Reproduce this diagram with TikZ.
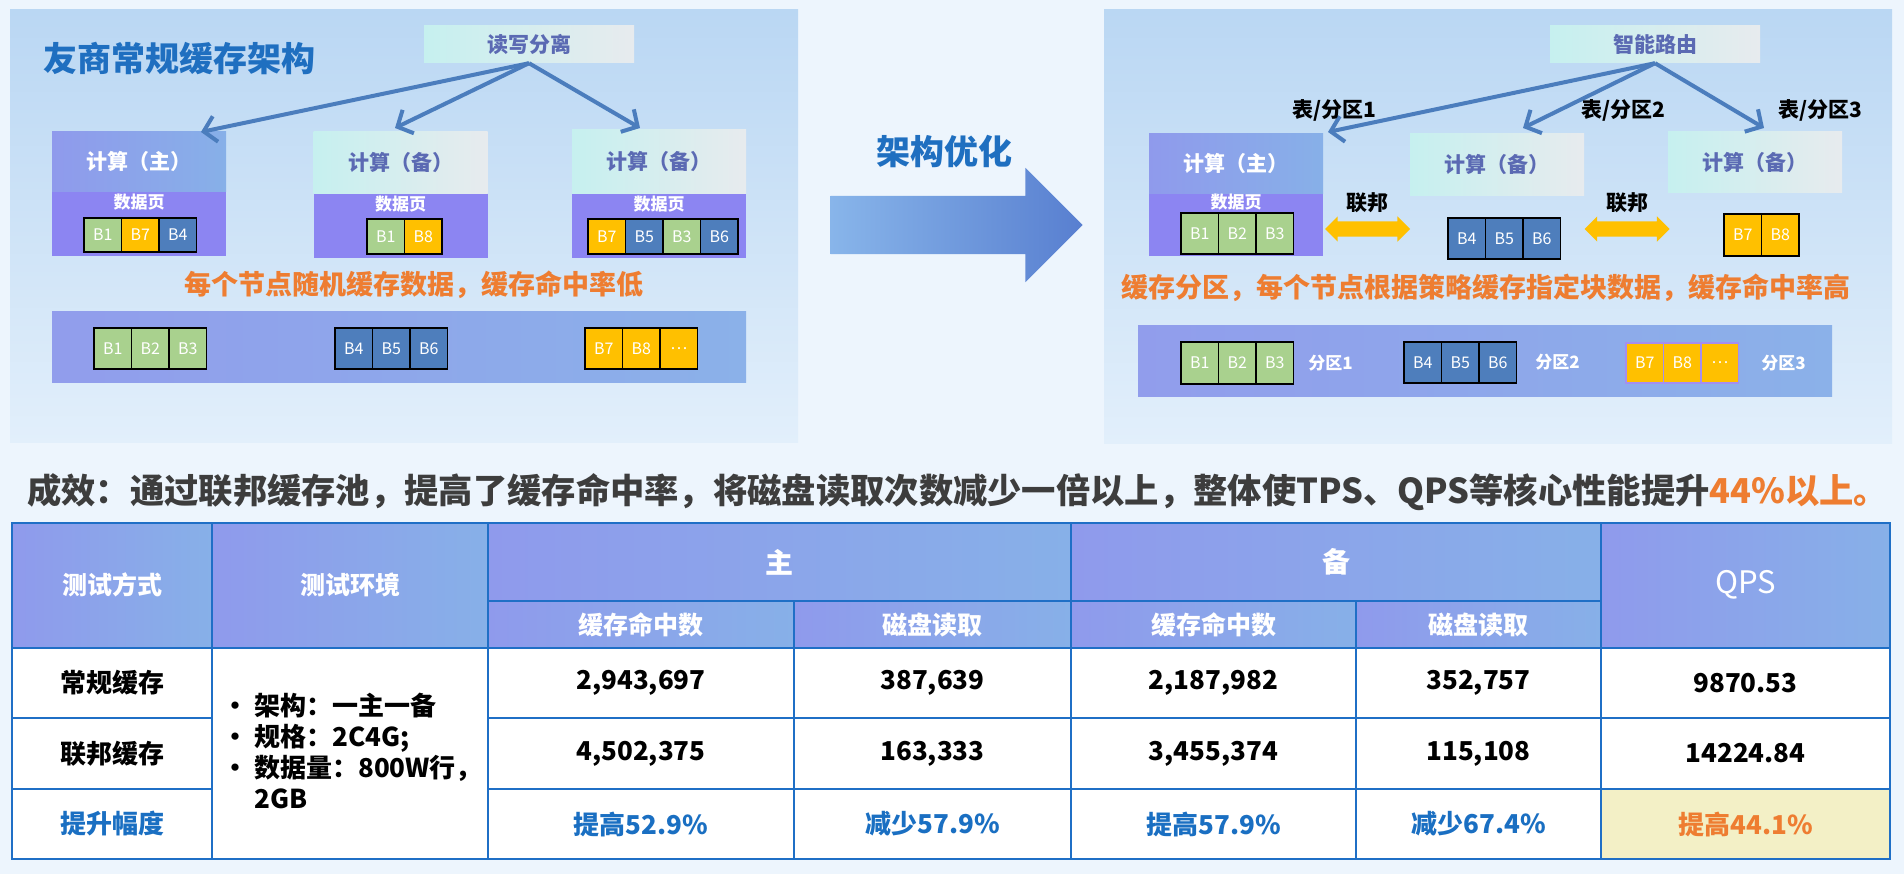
\documentclass[tikz,border=0pt]{standalone}
\usepackage{fontspec}
\setmainfont{Noto Sans CJK SC}
\usetikzlibrary{arrows.meta}
\usetikzlibrary{positioning}
\usetikzlibrary{shapes.arrows}

\definecolor{pagebg}{HTML}{EDF5FD}
\definecolor{paneltop}{HTML}{BAD7F3}
\definecolor{panelbot}{HTML}{E2EFFB}
\definecolor{titleblue}{HTML}{1F6FC0}
\definecolor{flowblue}{HTML}{4B7DBD}
\definecolor{hdl}{HTML}{8F9AEC}
\definecolor{hdr}{HTML}{87B0E8}
\definecolor{dpage}{HTML}{8C85F2}
\definecolor{stdl}{HTML}{C6F0EF}
\definecolor{stdr}{HTML}{E7EBEE}
\definecolor{stdtext}{HTML}{5B6AB3}
\definecolor{bandl}{HTML}{919DEC}
\definecolor{bandr}{HTML}{8BB1E9}
\definecolor{bgreen}{HTML}{A9D18E}
\definecolor{byellow}{HTML}{FFC000}
\definecolor{bblue}{HTML}{4E7EBC}
\definecolor{hotorange}{HTML}{EE7D31}
\definecolor{gridblue}{HTML}{1F6FC6}
\definecolor{gaintext}{HTML}{1A6FC2}
\definecolor{qpsfill}{HTML}{F3F0C6}
\definecolor{textgray}{HTML}{3D3D3D}
\definecolor{arrl}{HTML}{88B5EA}
\definecolor{arrr}{HTML}{587FD0}
\definecolor{lilac}{HTML}{A58EF0}

\newcommand{\fsz}[1]{\fontsize{#1}{#1}\selectfont}
% a row of cache blocks: [extra style]{name}{x of first}{y}{height}{label/colour list}
\newcommand{\cellrow}[6][]{%
  \foreach \lab/\col [count=\i] in {#6}
    \node [cell, fill=\col, minimum height=#5pt, #1] (#2\i) at ({#3+37.5*(\i-1)}, #4) {\lab};
}

\tikzset{
  panel/.style={top color=paneltop, bottom color=panelbot},
  router/.style={left color=stdl, right color=stdr, minimum width=210pt, minimum height=37pt,
                 text=stdtext, font=\bfseries\fsz{21}, inner sep=0pt},
  mainhead/.style={left color=hdl, right color=hdr, minimum width=174pt, inner sep=0pt,
                   text=white, font=\bfseries\fsz{21}},
  sparehead/.style={left color=stdl, right color=stdr, minimum width=174pt, inner sep=0pt,
                    text=stdtext, font=\bfseries\fsz{21}},
  pagebox/.style={fill=dpage, minimum width=174pt, inner sep=0pt},
  pagelabel/.style={text=white, font=\bfseries\fsz{17}, inner sep=0pt},
  cell/.style={draw=black, line width=1.3pt, text=white, minimum width=37.5pt, inner sep=0pt,
               font=\fsz{16}},
  flow/.style={draw=flowblue, line width=4pt, -{Straight Barb[length=12pt,width=26pt]}},
  note/.style={text=hotorange, font=\bfseries\fsz{27}},
  band/.style={left color=bandl, right color=bandr, minimum width=694pt, minimum height=71pt,
               inner sep=0pt},
  partlabel/.style={text=black, font=\bfseries\fsz{21}},
  zone/.style={text=white, font=\bfseries\fsz{17}, inner sep=0pt},
  fed/.style={double arrow, fill=byellow, minimum height=85pt, inner xsep=0pt, inner ysep=7.5pt,
              double arrow head extend=5pt},
  bigarrow/.style={single arrow, left color=arrl, right color=arrr, minimum height=252pt,
                   inner xsep=0pt, inner ysep=29pt, single arrow head extend=28pt},
  grid/.style={draw=gridblue, line width=2.5pt},
  hd/.style={text=white, font=\bfseries\fsz{25}},
  body/.style={text=black, font=\bfseries\fsz{26}},
  gain/.style={text=gaintext, font=\bfseries\fsz{26}},
}

\begin{document}
\begin{tikzpicture}[x=1pt, y=-1pt]
  \useasboundingbox (0,0) rectangle (1904,874);
  \fill [pagebg] (0,0) rectangle (1904,874);
  \shade [panel] (10,10) rectangle (798,443);
  \shade [panel] (1104,10) rectangle (1892,444);

  % left panel
  \node [anchor=west, text=titleblue, font=\bfseries\fsz{34}] (ttl) at (40,58) {友商常规缓存架构};
  \node [router] (rw) at (529,44.5) {读写分离};

  \node [mainhead, minimum height=60pt] (lmh) at (139,162) {计算（主）};
  \node [pagebox, minimum height=64pt] (lmp) at (139,224) {};
  \node [pagelabel] (lml) at (139,202) {数据页};
  \cellrow{lm}{102.75}{235}{34}{B1/bgreen, B7/byellow, B4/bblue}

  \node [sparehead, minimum height=62pt] (lsa) at (400.5,163) {计算（备）};
  \node [pagebox, minimum height=64pt] (lsap) at (400.5,226) {};
  \node [pagelabel] (lsal) at (400.5,204) {数据页};
  \cellrow{lsa}{385.75}{236.5}{35}{B1/bgreen, B8/byellow}

  \node [sparehead, minimum height=64pt] (lsb) at (659,162) {计算（备）};
  \node [pagebox, minimum height=64pt] (lsbp) at (659,226) {};
  \node [pagelabel] (lsbl) at (659,204) {数据页};
  \cellrow{lsb}{606.75}{236.5}{35}{B7/byellow, B5/bblue, B3/bgreen, B6/bblue}

  \coordinate (lt1) at (201,132);
  \coordinate (lt2) at (395,128);
  \coordinate (lt3) at (640,128);
  \foreach \t in {lt1, lt2, lt3}
    \draw [flow] (rw.south) -- (\t);

  \node [note] (lnote) at (414,285) {每个节点随机缓存数据，缓存命中率低};
  \node [band] (lband) at (399,347.5) {};
  \cellrow{lba}{112.75}{348.5}{41}{B1/bgreen, B2/bgreen, B3/bgreen}
  \cellrow{lbb}{353.75}{348.5}{41}{B4/bblue, B5/bblue, B6/bblue}
  \cellrow{lbc}{603.75}{348.5}{41}{B7/byellow, B8/byellow, \ldots/byellow}

  % optimisation arrow
  \node [text=titleblue, font=\bfseries\fsz{34}] (optl) at (944,152) {架构优化};
  \node [bigarrow] (opt) at (942,225) {};

  % right panel
  \node [router] (rt) at (1655,44.5) {智能路由};

  \node [mainhead, minimum height=60pt] (rmh) at (1236,164) {计算（主）};
  \node [pagebox, minimum height=62pt] (rmp) at (1236,225) {};
  \node [pagelabel] (rml) at (1236,202) {数据页};
  \cellrow{rm}{1199.75}{233.5}{41}{B1/bgreen, B2/bgreen, B3/bgreen}

  \node [sparehead, minimum height=62pt] (rsa) at (1497,165) {计算（备）};
  \cellrow{rsa}{1466.75}{238.5}{41}{B4/bblue, B5/bblue, B6/bblue}

  \node [sparehead, minimum height=61pt] (rsb) at (1755,162.5) {计算（备）};
  \cellrow{rsb}{1742.75}{235}{42}{B7/byellow, B8/byellow}

  \coordinate (rt1) at (1328,132);
  \coordinate (rt2) at (1523,128);
  \coordinate (rt3) at (1764,128);
  \foreach \t in {rt1, rt2, rt3}
    \draw [flow] (rt.south) -- (\t);
  \node [partlabel] (p1) at (1334,110) {表/分区1};
  \node [partlabel] (p2) at (1623,110) {表/分区2};
  \node [partlabel] (p3) at (1820,110) {表/分区3};

  \node [fed] (fed1) at (1367.5,229) {};
  \node [fed] (fed2) at (1627,229) {};
  \node [partlabel, above=5pt of fed1] (fl1) {联邦};
  \node [partlabel, above=5pt of fed2] (fl2) {联邦};

  \node [note] (rnote) at (1486,288) {缓存分区，每个节点根据策略缓存指定块数据，缓存命中率高};
  \node [band] (rband) at (1485,361.5) {};
  \cellrow{rba}{1199.75}{363}{42}{B1/bgreen, B2/bgreen, B3/bgreen}
  \cellrow{rbb}{1422.75}{362.5}{41}{B4/bblue, B5/bblue, B6/bblue}
  \cellrow[draw=lilac]{rbc}{1644.75}{363}{40}{B7/byellow, B8/byellow, \ldots/byellow}
  \node [zone, right=14pt of rba3] (z1) {分区1};
  \node [zone, right=18pt of rbb3] (z2) {分区2};
  \node [zone, right=22pt of rbc3] (z3) {分区3};

  % result line
  \node [anchor=west, inner sep=0pt, text=textgray, font=\bfseries\fsz{34.3}] (res) at (27,492)
    {成效：通过联邦缓存池，提高了缓存命中率，将磁盘读取次数减少一倍以上，整体使TPS、QPS等核心性能提升{\color{hotorange}44\%以上。}};

  % table
  \foreach \xa/\xb/\ya/\yb in {12/212/523/648, 212/488/523/648, 488/1071/523/601,
      1071/1601/523/601, 488/794/601/648, 794/1071/601/648, 1071/1356/601/648,
      1356/1601/601/648, 1601/1890/523/648}
    \shade [left color=hdl, right color=hdr] (\xa,\ya) rectangle (\xb,\yb);
  \fill [white] (12,648) rectangle (1890,859);
  \fill [qpsfill] (1601,789) rectangle (1890,859);
  \draw [grid] (12,523) rectangle (1890,859);
  \foreach \x in {212, 488, 1071, 1601}
    \draw [grid] (\x,523) -- (\x,859);
  \foreach \x in {794, 1356}
    \draw [grid] (\x,601) -- (\x,859);
  \draw [grid] (488,601) -- (1601,601);
  \draw [grid] (12,648) -- (1890,648);
  \foreach \y in {718, 789} {
    \draw [grid] (12,\y) -- (212,\y);
    \draw [grid] (488,\y) -- (1890,\y);
  }

  \node [hd] (hway) at (112,585) {测试方式};
  \node [hd] (henv) at (350,585) {测试环境};
  \node [hd, font=\bfseries\fsz{28}] (hmain) at (779.5,562) {主};
  \node [hd, font=\bfseries\fsz{28}] (hspare) at (1336,562) {备};
  \node [hd, font=\fsz{31}] (hqps) at (1745.5,585) {QPS};
  \foreach \x/\txt [count=\c] in {641/缓存命中数, 932.5/磁盘读取, 1213.5/缓存命中数, 1478.5/磁盘读取}
    \node [hd] (hsub\c) at (\x,625) {\txt};

  \node [body] (way1) at (112,683) {常规缓存};
  \node [body] (way2) at (112,753.5) {联邦缓存};
  \node [gain] (way3) at (112,824) {提升幅度};
  \node [body, anchor=north west, align=left, inner sep=0pt, font=\bfseries\fontsize{26}{31}\selectfont]
    (env) at (222,693)
    {\makebox[32pt][l]{•}架构：一主一备\\
     \makebox[32pt][l]{•}规格：2C4G;\\
     \makebox[32pt][l]{•}数据量：800W行，\\
     \hspace*{32pt}2GB};

  \foreach \x/\v [count=\c] in {641/{2,943,697}, 932.5/{387,639}, 1213.5/{2,187,982},
      1478.5/{352,757}, 1745.5/{9870.53}}
    \node [body] (ra\c) at (\x,683) {\v};
  \foreach \x/\v [count=\c] in {641/{4,502,375}, 932.5/{163,333}, 1213.5/{3,455,374},
      1478.5/{115,108}, 1745.5/{14224.84}}
    \node [body] (rb\c) at (\x,753.5) {\v};
  \foreach \x/\v [count=\c] in {641/提高52.9\%, 932.5/减少57.9\%, 1213.5/提高57.9\%,
      1478.5/减少67.4\%}
    \node [gain] (rc\c) at (\x,824) {\v};
  \node [gain, text=hotorange] (rc5) at (1745.5,824) {提高44.1\%};
\end{tikzpicture}
\end{document}
